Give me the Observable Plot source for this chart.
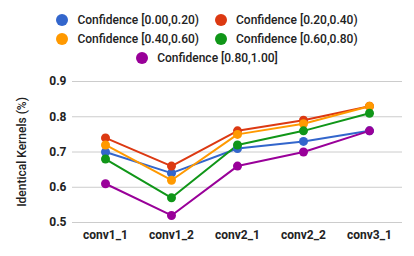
<!DOCTYPE html>
<html><head><meta charset="utf-8">
<script src="https://cdn.jsdelivr.net/npm/d3@7"></script>
<script src="https://cdn.jsdelivr.net/npm/@observablehq/plot@0.6"></script>
<style>
body{margin:0;background:#fff;font-family:Roboto,sans-serif;}
#legend{height:70px;box-sizing:border-box;padding-top:10px;width:414px;}
#legend .inner{width:310px;margin:0 auto;display:flex;flex-wrap:wrap;justify-content:center;column-gap:16px;}
#legend .item{display:flex;align-items:center;height:19px;font-size:12px;font-weight:500;color:#222;white-space:nowrap;}
#legend .sw{width:12px;height:12px;border-radius:50%;margin-right:9px;display:inline-block;}
</style></head>
<body>
<div id="legend"><div class="inner"></div></div>
<div id="chart"></div>
<script>
const layers = ["conv1_1","conv1_2","conv2_1","conv2_2","conv3_1"];
const seriesNames = ["Confidence [0.00,0.20)","Confidence [0.20,0.40)","Confidence [0.40,0.60)","Confidence [0.60,0.80)","Confidence [0.80,1.00]"];
const colors = ["#3366cc","#dc3912","#ff9900","#109618","#990099"];
const conf00_20 = [0.70,0.64,0.71,0.73,0.76];
const conf20_40 = [0.74,0.66,0.76,0.79,0.83];
const conf40_60 = [0.72,0.62,0.75,0.78,0.83];
const conf60_80 = [0.68,0.57,0.72,0.76,0.81];
const conf80_100 = [0.61,0.52,0.66,0.70,0.76];
const yTicks = [0.5,0.6,0.7,0.8,0.9];

const seriesValues = [conf00_20,conf20_40,conf40_60,conf60_80,conf80_100];
const data = [];
seriesNames.forEach((s,i)=>layers.forEach((l,j)=>data.push({series:s,layer:l,value:seriesValues[i][j]})));

const inner = document.querySelector("#legend .inner");
seriesNames.forEach((s,i)=>{
  const it=document.createElement("div");it.className="item";
  const sw=document.createElement("span");sw.className="sw";sw.style.background=colors[i];
  it.appendChild(sw);it.appendChild(document.createTextNode(s));inner.appendChild(it);
});

const chart = Plot.plot({
  width:414, height:186,
  marginTop:11, marginBottom:34, marginLeft:72, marginRight:12,
  style:{fontFamily:"Roboto, sans-serif", fontSize:"12px", color:"#222", background:"#fff"},
  x:{type:"point", domain:layers, padding:0.5},
  y:{domain:[0.5,0.9]},
  color:{domain:seriesNames, range:colors},
  marks:[
    Plot.ruleY(yTicks,{stroke:"#cccccc"}),
    Plot.axisX({tickSize:0, tickPadding:8, label:null, fontWeight:"bold"}),
    Plot.axisY(yTicks,{tickSize:0, tickPadding:6, tickFormat:d3.format(".1f"), fontWeight:"bold", label:null}),
    Plot.text(["Identical Kernels (%)"],{frameAnchor:"left", textAnchor:"middle", dx:-50, rotate:-90, fontWeight:500, fontSize:12, fill:"#222"}),
    Plot.line(data,{x:"layer", y:"value", z:"series", stroke:"series", strokeWidth:2}),
    Plot.dot(data,{x:"layer", y:"value", fill:"series", r:4.5})
  ]
});
document.getElementById("chart").appendChild(chart);
</script>
</body></html>
